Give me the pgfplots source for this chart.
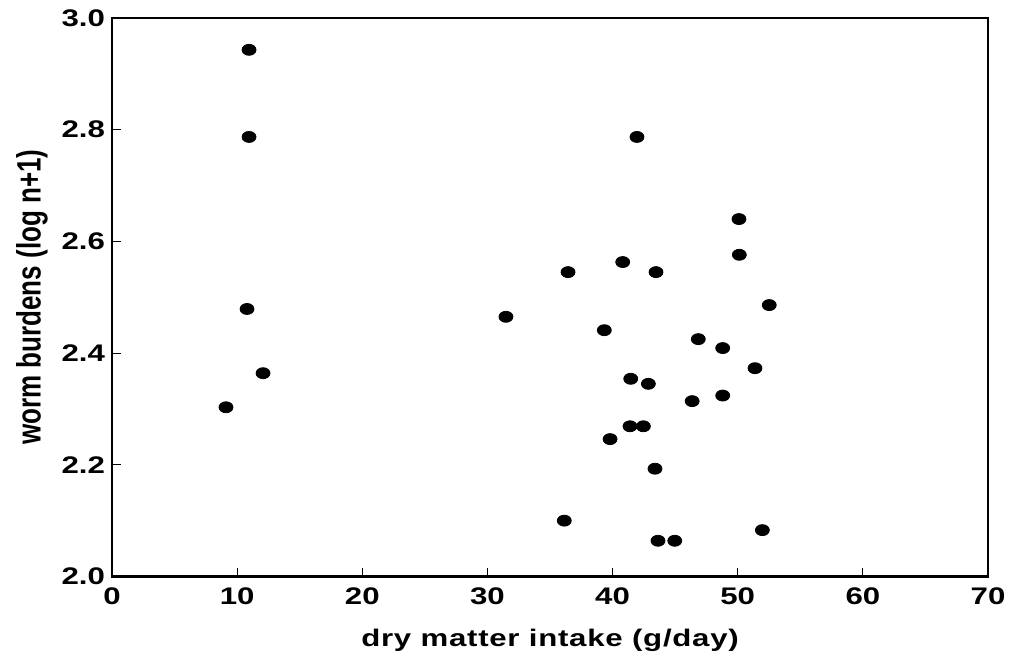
\documentclass[border=0pt]{standalone}
\usepackage{fontspec}
\setmainfont{Liberation Sans}
\newfontfamily\widefont{Liberation Sans}[FakeStretch=1.3]
\newfontfamily\widelabel{Liberation Sans}[FakeStretch=1.3, LetterSpace=3]
\usepackage{pgfplots}
\pgfplotsset{compat=1.18}
\usetikzlibrary{calc}
\begin{document}
\begin{tikzpicture}
\begin{axis}[
  name=ax,
  width=438pt, height=279.25pt,
  scale only axis,
  xmin=0, xmax=70, ymin=2.0, ymax=3.0,
  xtick={0,10,...,70},
  ytick={2.0,2.2,2.4,2.6,2.8,3.0},
  yticklabel style={/pgf/number format/fixed, /pgf/number format/fixed zerofill, /pgf/number format/precision=1},
  /pgf/number format/assume math mode=true,
  tick label style={font=\fontsize{12}{14}\widefont\bfseries},
  xlabel={dry matter intake (g/day)},
  ylabel={\scalebox{1}[1.3]{worm burdens (log n+1)}},
  xlabel style={font=\fontsize{12}{14}\widelabel\bfseries, yshift=-5.5pt},
  ylabel style={font=\fontsize{13}{14}\selectfont\bfseries, yshift=0pt},
  axis line style={line width=1.4pt},
  tick style={line width=0.4pt, black},
  major tick length=4.5pt,
  tick align=inside,
  xtick pos=bottom, ytick pos=left,
  xticklabel style={yshift=-2pt},
]
\addplot[only marks, mark=*, mark size=2.75pt, mark options={xscale=1.27, fill=black, draw=black}] coordinates {
(10.95,2.943) (10.95,2.787) (10.79,2.479) (12.07,2.364) (9.11,2.303)
(31.48,2.465) (36.44,2.545) (36.14,2.100) (39.34,2.441) (39.80,2.246)
(41.95,2.787) (40.81,2.563) (41.45,2.354) (41.39,2.269) (42.46,2.269)
(42.86,2.345) (43.47,2.545) (43.39,2.193) (43.63,2.064) (44.97,2.064)
(46.85,2.425) (46.36,2.314) (48.80,2.409) (48.80,2.324) (50.10,2.640)
(50.13,2.576) (51.38,2.373) (52.52,2.486) (51.97,2.083)
};
\end{axis}
\pgfresetboundingbox
\useasboundingbox ($(ax.south west)+(-56pt,-40.25pt)$) rectangle ($(ax.north east)+(12pt,9pt)$);
\end{tikzpicture}
\end{document}
